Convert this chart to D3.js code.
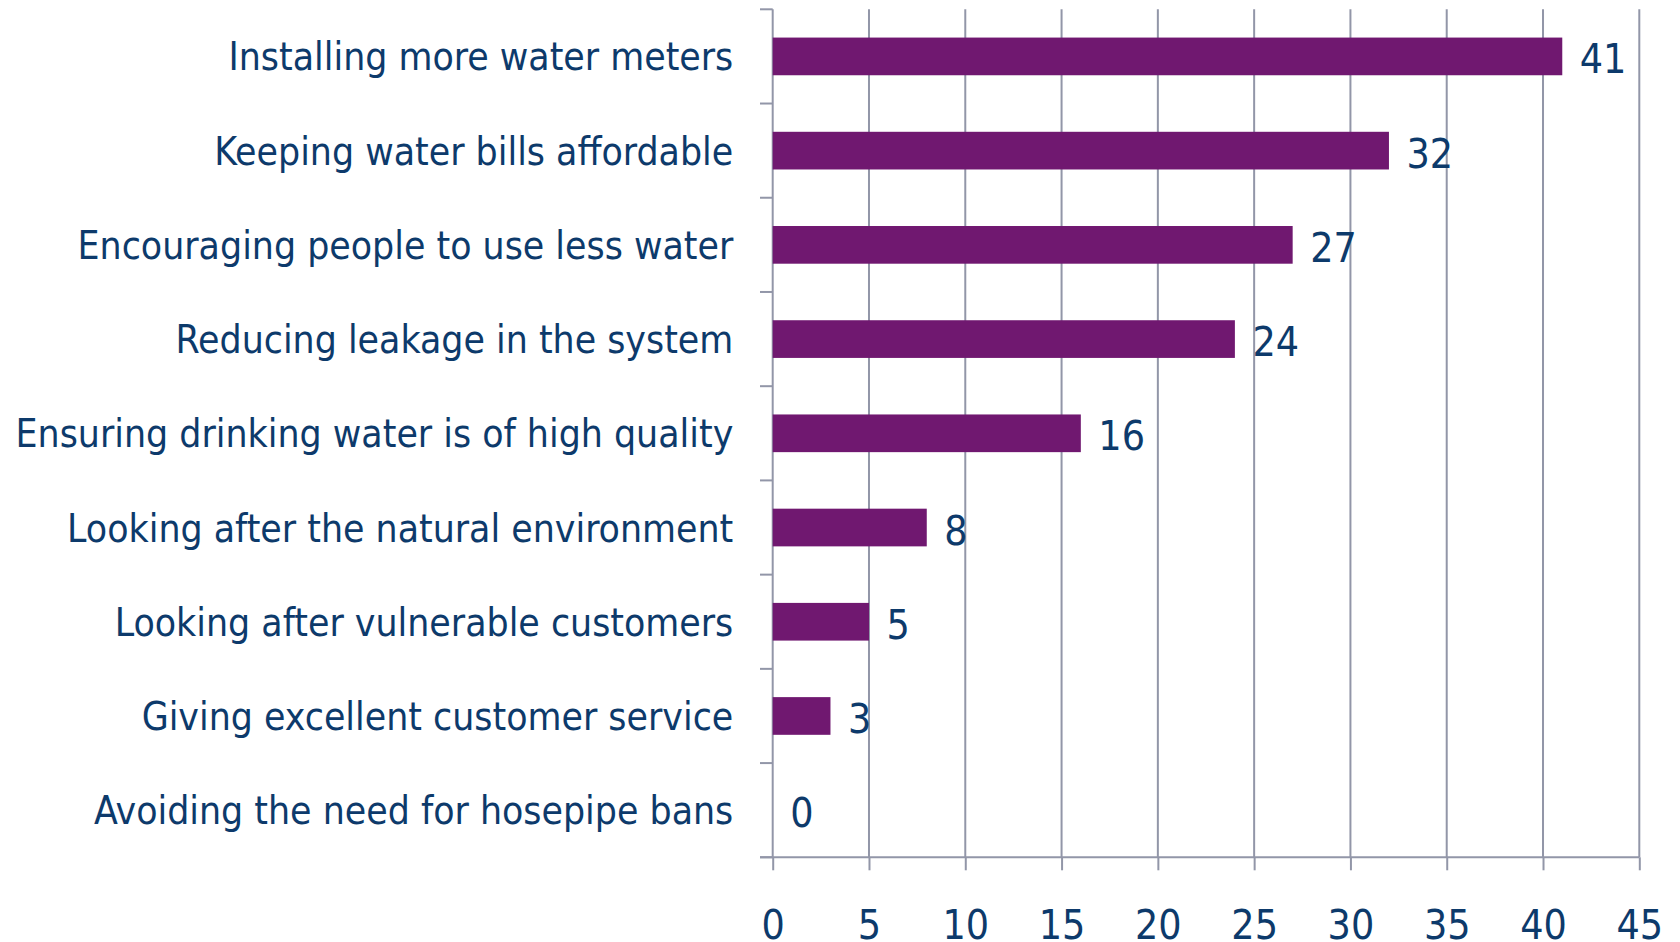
<!DOCTYPE html>
<html>
<head>
<meta charset="utf-8">
<script src="https://cdn.jsdelivr.net/npm/d3@7"></script>
<style>
  html, body { margin: 0; padding: 0; background: #ffffff; }
  svg { display: block; }
  text { font-family: "DejaVu Sans Condensed", "DejaVu Sans", sans-serif; font-stretch: condensed; fill: #0d3a6b; }
</style>
</head>
<body>
<svg id="chart" width="1680" height="942"></svg>
<script>
// Priorities chosen by respondents (count), top to bottom
const categories = [
  "Installing more water meters",
  "Keeping water bills affordable",
  "Encouraging people to use less water",
  "Reducing leakage in the system",
  "Ensuring drinking water is of high quality",
  "Looking after the natural environment",
  "Looking after vulnerable customers",
  "Giving excellent customer service",
  "Avoiding the need for hosepipe bans"
];
const values = [41, 32, 27, 24, 16, 8, 5, 3, 0];
const xTicks = [0, 5, 10, 15, 20, 25, 30, 35, 40, 45];

const BAR = "#701870";
const GRID = "#9296a8";
const TEXT = "#0d3a6b";

const svg = d3.select("#chart");

const x = d3.scaleLinear().domain([0, 45]).range([772.7, 1639.3]);
const y = d3.scaleBand().domain(categories).range([9.3, 857.3])
  .paddingInner(0.6).paddingOuter(0.3);

const plotTop = y.range()[0], plotBottom = y.range()[1];

// vertical gridlines
svg.append("g").selectAll("line").data(xTicks.slice(1)).join("line")
  .attr("x1", d => x(d)).attr("x2", d => x(d))
  .attr("y1", plotTop).attr("y2", plotBottom)
  .attr("stroke", GRID).attr("stroke-width", 2);

// x axis: baseline, tick marks, labels
const xAxis = d3.axisBottom(x).tickValues(xTicks).tickSize(13).tickPadding(40).tickFormat(d3.format("d"));
const gx = svg.append("g").attr("transform", `translate(0,${plotBottom})`).call(xAxis);
gx.select(".domain").remove();
gx.selectAll(".tick line").attr("stroke", GRID).attr("stroke-width", 2);
gx.selectAll(".tick text")
  .attr("font-size", 41).attr("fill", TEXT).attr("dy", null).attr("y", 81.7);
gx.attr("font-family", null).attr("font-size", null);
svg.append("line")
  .attr("x1", x(0) - 12.7).attr("x2", x(45))
  .attr("y1", plotBottom).attr("y2", plotBottom)
  .attr("stroke", GRID).attr("stroke-width", 2);

// y axis line with tick marks at category boundaries
const boundaries = d3.range(categories.length + 1);
const yb = d3.scaleLinear().domain([0, categories.length]).range([plotTop, plotBottom]);
svg.append("line")
  .attr("x1", x(0)).attr("x2", x(0)).attr("y1", plotTop).attr("y2", plotBottom)
  .attr("stroke", GRID).attr("stroke-width", 2);
svg.append("g").selectAll("line").data(boundaries).join("line")
  .attr("x1", x(0) - 12.7).attr("x2", x(0))
  .attr("y1", d => yb(d)).attr("y2", d => yb(d))
  .attr("stroke", GRID).attr("stroke-width", 2);

// bars
const rows = categories.map((c, i) => ({ c, v: values[i] }));
svg.append("g").selectAll("rect").data(rows.filter(d => d.v > 0)).join("rect")
  .attr("x", x(0)).attr("y", d => y(d.c))
  .attr("width", d => x(d.v) - x(0)).attr("height", y.bandwidth())
  .attr("fill", BAR);

// category labels
const catLabels = svg.append("g").selectAll("text").data(rows).join("text")
  .attr("text-anchor", "end")
  .attr("font-size", 39)
  .attr("x", 733.3)
  .attr("y", d => y(d.c) + y.bandwidth() / 2 + 14)
  .text(d => d.c);

// value labels
const valLabels = svg.append("g").selectAll("text").data(rows).join("text")
  .attr("text-anchor", "start")
  .attr("font-size", 41)
  .attr("x", d => x(d.v) + 17.5)
  .attr("y", d => y(d.c) + y.bandwidth() / 2 + 17)
  .text(d => d.v);

// horizontal compression so the longest label spans its column
const longest = catLabels.filter(d => d.c === categories[4]).node();
const sx = 718 / longest.getComputedTextLength();
const squeeze = function () {
  const ax = +this.getAttribute("x") || 0;
  return `translate(${ax},0) scale(${sx},1) translate(${-ax},0)`;
};
catLabels.attr("transform", squeeze);
valLabels.attr("transform", squeeze);
gx.selectAll(".tick text").attr("transform", `scale(${sx},1)`);
</script>
</body>
</html>
